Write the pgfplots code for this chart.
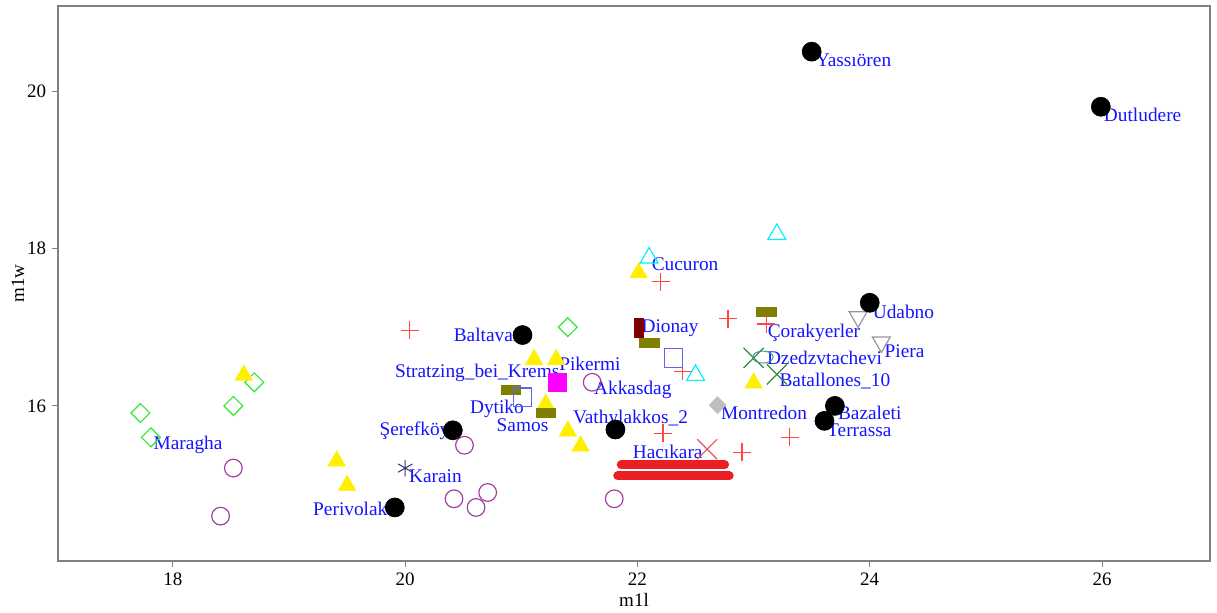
\documentclass[border=0pt]{standalone}
\usepackage{fontspec}
\setmainfont{Liberation Serif}
\usepackage{pgfplots}
\pgfplotsset{compat=1.18}
\definecolor{lblue}{RGB}{20,20,255}
\definecolor{lred}{RGB}{255,70,70}
\definecolor{xred}{RGB}{230,80,95}
\definecolor{xgreen}{RGB}{50,140,50}
\definecolor{dgreen}{RGB}{50,230,50}
\definecolor{tyellow}{RGB}{255,240,0}
\definecolor{tcyan}{RGB}{0,240,255}
\definecolor{igray}{RGB}{150,150,150}
\definecolor{dgray}{RGB}{190,190,190}
\definecolor{cpurple}{RGB}{160,60,160}
\definecolor{sblue}{RGB}{100,100,230}
\definecolor{smag}{RGB}{255,0,255}
\definecolor{rolive}{RGB}{128,128,0}
\definecolor{rmaroon}{RGB}{128,0,0}
\definecolor{anavy}{RGB}{50,50,120}
\definecolor{barred}{RGB}{235,30,35}
\definecolor{eteal}{RGB}{70,150,160}
\definecolor{axgray}{RGB}{128,128,128}
\begin{document}
\begin{tikzpicture}
\begin{axis}[
  name=ax,
  scale only axis,
  width=691.2pt, height=333pt,
  xmin=17.01, xmax=26.93, ymin=14.03, ymax=21.08,
  xtick={18,20,22,24,26}, ytick={16,18,20},
  tick pos=left, tick align=outside,
  major tick length=3.6pt,
  axis line style={axgray, line width=0.9pt},
  every tick/.style={axgray, line width=0.6pt},
  /pgf/number format/assume math mode=true,
  ticklabel style={font=\fontsize{11.4}{13}\selectfont},
  label style={font=\fontsize{11.4}{13}\selectfont},
  xlabel={m1l}, ylabel={m1w},
  xlabel style={at={(axis description cs:0.5,-0.0703)}, anchor=center},
  ylabel style={at={(axis description cs:-0.0347,0.5)}, anchor=center},
  clip=false,
]
% red bars
\addplot[no marks, line width=5.4pt, line cap=round, barred] coordinates {(21.86,15.25) (22.75,15.25)};
\addplot[no marks, line width=5.4pt, line cap=round, barred] coordinates {(21.83,15.11) (22.79,15.11)};
% purple open circles
\addplot[only marks, mark=o, mark size=5.3pt, cpurple, line width=0.7pt] coordinates {
(18.52,15.21) (18.41,14.60) (20.51,15.50) (20.42,14.82) (20.71,14.90) (20.61,14.71) (21.80,14.82) (21.61,16.30)};
% red plus
\addplot[only marks, mark=+, mark size=5.4pt, lred, line width=0.75pt] coordinates {
(20.04,16.96) (22.20,17.58) (22.78,17.11) (23.11,17.04) (22.39,16.44) (22.22,15.65) (22.90,15.41) (23.31,15.60)};
% red x
\addplot[only marks, mark=x, mark size=8.5pt, xred, line width=0.7pt] coordinates {(22.60,15.45)};
% green x
\addplot[only marks, mark=x, mark size=8.5pt, xgreen, line width=0.7pt] coordinates {(23.00,16.61) (23.20,16.40)};
% teal ellipse
\addplot[only marks, mark=o, mark size=3.6pt, mark options={xscale=1.7}, eteal, line width=0.6pt] coordinates {(23.08,16.62)};
% green diamonds
\addplot[only marks, mark=square, mark size=4pt, mark options={rotate=45}, dgreen, line width=0.7pt] coordinates {
(17.72,15.91) (17.81,15.60) (18.52,16.00) (18.70,16.30) (21.40,17.00)};
% yellow triangles
\addplot[only marks, mark=triangle*, mark size=6pt, tyellow] coordinates {
(18.61,16.39) (19.41,15.30) (19.50,14.99) (21.11,16.59) (21.30,16.59) (21.21,16.02) (21.40,15.68) (21.51,15.49) (22.01,17.69) (23.00,16.29)};
% cyan open triangles
\addplot[only marks, mark=triangle, mark size=6.2pt, tcyan, line width=0.7pt] coordinates {
(22.10,17.88) (23.20,18.18) (22.50,16.39)};
% gray inverted triangles
\addplot[only marks, mark=triangle, mark size=6.2pt, mark options={rotate=180}, igray, line width=0.7pt] coordinates {
(23.90,17.13) (24.10,16.81)};
% gray filled diamond
\addplot[only marks, mark=square*, mark size=3.6pt, mark options={rotate=45}, dgray] coordinates {(22.69,16.01)};
% olive rectangles
\addplot[only marks, mark=square*, mark size=2.7pt, mark options={xscale=2.2}, rolive] coordinates {
(20.91,16.20) (21.21,15.91) (22.10,16.80) (23.11,17.20)};
% blue open squares
\addplot[only marks, mark=square, mark size=5.6pt, sblue, line width=0.75pt] coordinates {(21.01,16.11) (22.31,16.61)};
% magenta square
\addplot[only marks, mark=square*, mark size=5.3pt, smag] coordinates {(21.31,16.30)};
% maroon rectangle
\addplot[only marks, mark=square*, mark size=5.5pt, mark options={xscale=0.5}, rmaroon] coordinates {(22.01,16.99)};
% navy asterisk
\addplot[only marks, mark=asterisk, mark size=5pt, anavy, line width=0.6pt] coordinates {(20.00,15.21)};
% black filled circles
\addplot[only marks, mark=*, mark size=5.7pt, black] coordinates {
(23.50,20.50) (25.99,19.80) (24.00,17.31) (21.01,16.90) (20.41,15.69) (19.91,14.71) (21.81,15.70) (23.70,16.00) (23.61,15.81)};
% labels
\begin{scope}[every node/.style={text=lblue, font=\fontsize{11.6}{13}\selectfont, inner sep=0pt, anchor=center}]
\node at (axis cs:23.86,20.39) {Yassıören};
\node at (axis cs:26.35,19.70) {Dutludere};
\node at (axis cs:24.29,17.19) {Udabno};
\node at (axis cs:20.70,16.90) {Baltavar};
\node at (axis cs:20.08,15.68) {Şerefköy};
\node at (axis cs:19.55,14.69) {Perivolaki};
\node at (axis cs:21.94,15.83) {Vathylakkos\_2};
\node at (axis cs:24.00,15.91) {Bazaleti};
\node at (axis cs:23.91,15.69) {Terrassa};
\node at (axis cs:18.13,15.50) {Maragha};
\node at (axis cs:20.26,15.11) {Karain};
\node at (axis cs:20.62,16.42) {Stratzing\_bei\_Krems};
\node at (axis cs:21.59,16.53) {Pikermi};
\node at (axis cs:21.96,16.20) {Akkasdag};
\node at (axis cs:20.79,15.96) {Dytiko};
\node at (axis cs:21.01,15.76) {Samos};
\node at (axis cs:22.26,15.41) {Hacıkara};
\node at (axis cs:22.28,16.99) {Dionay};
\node at (axis cs:22.41,17.80) {Cucuron};
\node at (axis cs:23.52,16.93) {Çorakyerler};
\node at (axis cs:23.61,16.61) {Dzedzvtachevi};
\node at (axis cs:23.70,16.32) {Batallones\_10};
\node at (axis cs:23.09,15.91) {Montredon};
\node at (axis cs:24.30,16.70) {Piera};
\end{scope}
\end{axis}
\path ([shift={(-34.8pt,-30.6pt)}]ax.south west) rectangle ([shift={(4.2pt,3.6pt)}]ax.north east);
\end{tikzpicture}
\end{document}
